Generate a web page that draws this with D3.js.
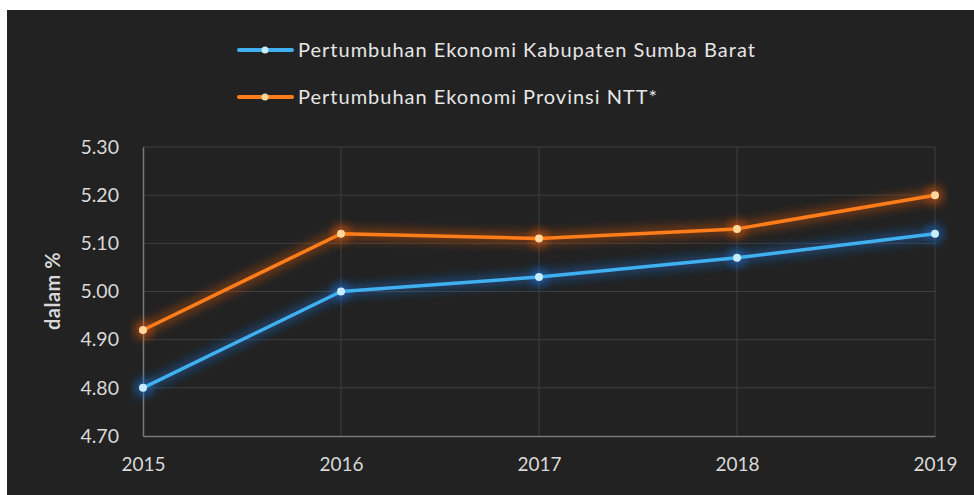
<!DOCTYPE html>
<html><head><meta charset="utf-8">
<script src="https://cdn.jsdelivr.net/npm/d3@7"></script>
<style>body{margin:0;background:#fff;}svg{display:block;}</style>
</head><body>
<script>
const years = ["2015","2016","2017","2018","2019"];
const seriesNames = ["Pertumbuhan Ekonomi Kabupaten Sumba Barat","Pertumbuhan Ekonomi Provinsi NTT*"];
const kabupaten = [4.80, 5.00, 5.03, 5.07, 5.12];
const provinsi = [4.92, 5.12, 5.11, 5.13, 5.20];
const yTicks = [4.70, 4.80, 4.90, 5.00, 5.10, 5.20, 5.30];
const lineColors = ["#3fb0f0", "#ff7d1a"];
const dotColors = ["#c8ecff", "#ffd79a"];
const glowColors = ["#1a6fd0", "#e0580a"];

const W = 974, H = 495;
const svg = d3.select("body").append("svg").attr("width", W).attr("height", H);
svg.append("rect").attr("x", 7).attr("y", 10).attr("width", W - 7).attr("height", H - 10).attr("fill", "#222222");

const defs = svg.append("defs");
const f = defs.append("filter").attr("id", "glow").attr("x", "-20%").attr("y", "-50%").attr("width", "140%").attr("height", "200%");
f.append("feGaussianBlur").attr("stdDeviation", 5);

const x = d3.scalePoint().domain(years).range([143, 935]);
const y = d3.scaleLinear().domain([4.70, 5.30]).range([436, 147]);
const font = "Lato, 'Open Sans', sans-serif";

// grid
svg.append("g").selectAll("line").data(yTicks.slice(1)).join("line")
  .attr("x1", 143).attr("x2", 935).attr("y1", d => y(d)).attr("y2", d => y(d))
  .attr("stroke", "#3e3e3e").attr("stroke-width", 1);
svg.append("g").selectAll("line").data(years.slice(1)).join("line")
  .attr("x1", d => x(d)).attr("x2", d => x(d)).attr("y1", 147).attr("y2", 436)
  .attr("stroke", "#3e3e3e").attr("stroke-width", 1);

// axes
const yAxis = svg.append("g").attr("transform", "translate(143,0)")
  .call(d3.axisLeft(y).tickValues(yTicks).tickFormat(d3.format(".2f")).tickSize(0).tickPadding(24));
yAxis.select(".domain").attr("stroke", "#7a7a7a").attr("stroke-width", 1.5);
yAxis.selectAll("text").attr("fill", "#d9d9d9").attr("font-size", 19.5).attr("font-family", font);

const xAxis = svg.append("g").attr("transform", "translate(0,436)")
  .call(d3.axisBottom(x).tickSize(0).tickPadding(22));
xAxis.select(".domain").attr("stroke", "#7a7a7a").attr("stroke-width", 1.5);
xAxis.selectAll("text").attr("fill", "#d9d9d9").attr("font-size", 19).attr("font-family", font);

svg.append("text").attr("transform", "translate(60,291) rotate(-90)")
  .attr("text-anchor", "middle").attr("fill", "#d9d9d9").attr("font-size", 20)
  .attr("font-weight", "bold").attr("font-family", font).attr("letter-spacing", 0.5).text("dalam %");

const line = d3.line().x((d, i) => x(years[i])).y(d => y(d));
const data = [kabupaten, provinsi];
data.forEach((vals, s) => {
  const g = svg.append("g");
  g.append("path").datum(vals).attr("d", line).attr("fill", "none")
    .attr("stroke", glowColors[s]).attr("stroke-width", 12).attr("stroke-opacity", 0.4)
    .attr("filter", "url(#glow)");
  g.selectAll("circle.glow").data(vals).join("circle").attr("class", "glow")
    .attr("cx", (d, i) => x(years[i])).attr("cy", d => y(d)).attr("r", 9)
    .attr("fill", glowColors[s]).attr("opacity", 0.55).attr("filter", "url(#glow)");
  g.append("path").datum(vals).attr("d", line).attr("fill", "none")
    .attr("stroke", lineColors[s]).attr("stroke-width", 3.5).attr("stroke-linejoin", "round");
  g.selectAll("circle.dot").data(vals).join("circle").attr("class", "dot")
    .attr("cx", (d, i) => x(years[i])).attr("cy", d => y(d)).attr("r", 4)
    .attr("fill", dotColors[s]);
});

// legend
const legY = [50, 97];
seriesNames.forEach((name, s) => {
  const g = svg.append("g").attr("transform", `translate(0,${legY[s]})`);
  g.append("line").attr("x1", 239).attr("x2", 292).attr("y1", 0).attr("y2", 0)
    .attr("stroke", lineColors[s]).attr("stroke-width", 4).attr("stroke-linecap", "round");
  g.append("circle").attr("cx", 265).attr("cy", 0).attr("r", 3.5).attr("fill", dotColors[s]);
  g.append("text").attr("x", 298).attr("y", 0).attr("dy", "0.35em")
    .attr("fill", "#e6e6e6").attr("font-size", 20).attr("letter-spacing", 1)
    .attr("font-family", font).text(name);
});
</script>
</body></html>
